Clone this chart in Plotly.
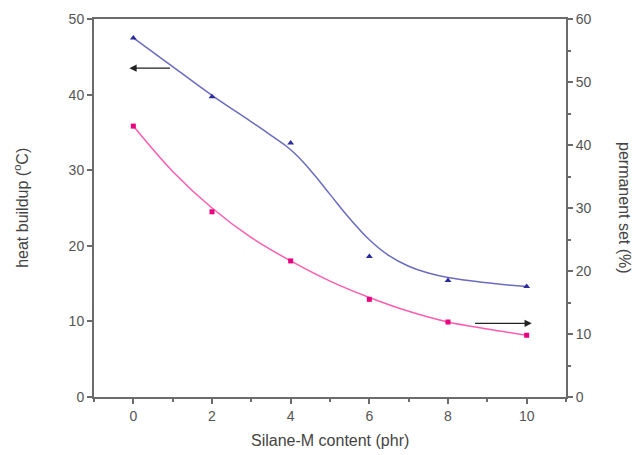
import plotly.graph_objects as go

# measured data points
x_pts = [0, 2, 4, 6, 8, 10]
heat_buildup = [47.5, 39.7, 33.6, 18.6, 15.4, 14.6]
permanent_set = [43.0, 29.4, 21.6, 15.5, 11.9, 9.8]

# fitted curves
blue_fit_x = [0, 1, 2, 3, 3.5, 4, 4.5, 5, 5.5, 6, 6.5, 7, 7.5, 8, 9, 10]
blue_fit_y = [47.5, 43.7, 39.9, 36.4, 34.6, 32.7, 30.0, 26.8, 23.6, 20.8, 18.7, 17.3, 16.4, 15.8, 15.1, 14.6]
pink_fit_x = [0, 1, 2, 3, 4, 5, 6, 7, 8, 9, 10]
pink_fit_y = [43.0, 35.8, 30.0, 25.3, 21.6, 18.4, 15.8, 13.6, 11.9, 10.8, 9.8]

x_ticks = [0, 2, 4, 6, 8, 10]

font = "Liberation Sans, Arial, sans-serif"
axcol = "#6b6b6b"
tickfont = dict(family=font, size=14, color="#555555")
titlefont = dict(family=font, size=16, color="#444444")

fig = go.Figure()
fig.add_trace(go.Scatter(x=blue_fit_x, y=blue_fit_y, mode="lines",
                         line=dict(color="#6b6bc0", width=1.5, shape="spline", smoothing=1.3),
                         yaxis="y", showlegend=False, hoverinfo="skip"))
fig.add_trace(go.Scatter(x=x_pts, y=heat_buildup, mode="markers",
                         marker=dict(symbol="triangle-up", size=6, color="#2b2b9c"),
                         yaxis="y", showlegend=False))
fig.add_trace(go.Scatter(x=pink_fit_x, y=pink_fit_y, mode="lines",
                         line=dict(color="#ff5cb0", width=1.5, shape="spline", smoothing=1.0),
                         yaxis="y2", showlegend=False, hoverinfo="skip"))
fig.add_trace(go.Scatter(x=x_pts, y=permanent_set, mode="markers",
                         marker=dict(symbol="square", size=5, color="#e8007f"),
                         yaxis="y2", showlegend=False))

# arrows
fig.add_annotation(x=-0.1, y=43.5, ax=0.97, ay=43.5, xref="x", yref="y", axref="x", ayref="y",
                   text="", showarrow=True, arrowhead=2, arrowsize=1.2, arrowwidth=1.2, arrowcolor="#222222")
fig.add_annotation(x=10.13, y=11.7, ax=8.65, ay=11.7, xref="x", yref="y2", axref="x", ayref="y2",
                   text="", showarrow=True, arrowhead=2, arrowsize=1.2, arrowwidth=1.2, arrowcolor="#222222")

# axis titles
fig.add_annotation(text="heat buildup (<sup>o</sup>C)", xref="paper", yref="paper",
                   x=-0.155, y=0.5, xanchor="center", yanchor="middle", textangle=-90,
                   showarrow=False, font=titlefont)
fig.add_annotation(text="permanent set (%)", xref="paper", yref="paper",
                   x=1.125, y=0.5, xanchor="center", yanchor="middle", textangle=90,
                   showarrow=False, font=titlefont)
fig.add_annotation(text="Silane-M content (phr)", xref="paper", yref="paper",
                   x=0.5, y=-0.115, xanchor="center", yanchor="middle",
                   showarrow=False, font=titlefont)

fig.update_layout(
    width=638, height=455,
    margin=dict(l=94, r=72, t=19, b=58),
    paper_bgcolor="white", plot_bgcolor="white",
    xaxis=dict(range=[-1, 11], tickvals=x_ticks, showgrid=False, zeroline=False, automargin=False,
               showline=True, linecolor=axcol, linewidth=2, mirror=True,
               ticks="outside", ticklen=5, tickwidth=1.5, tickcolor=axcol,
               minor=dict(dtick=1, tick0=1, ticks="outside", ticklen=3, tickcolor=axcol, tickwidth=1.5),
               tickfont=tickfont),
    yaxis=dict(range=[0, 50], dtick=10, showgrid=False, zeroline=False, automargin=False,
               showline=True, linecolor=axcol, linewidth=2,
               ticks="outside", ticklen=5, tickwidth=1.5, tickcolor=axcol,
               tickfont=tickfont),
    yaxis2=dict(range=[0, 60], dtick=10, overlaying="y", side="right", showgrid=False, zeroline=False,
                automargin=False,
                showline=True, linecolor=axcol, linewidth=2,
                ticks="outside", ticklen=5, tickwidth=1.5, tickcolor=axcol,
                minor=dict(dtick=5, ticks="outside", ticklen=3, tickcolor=axcol, tickwidth=1.5),
                tickfont=tickfont),
)

fig.write_html("out.html")
